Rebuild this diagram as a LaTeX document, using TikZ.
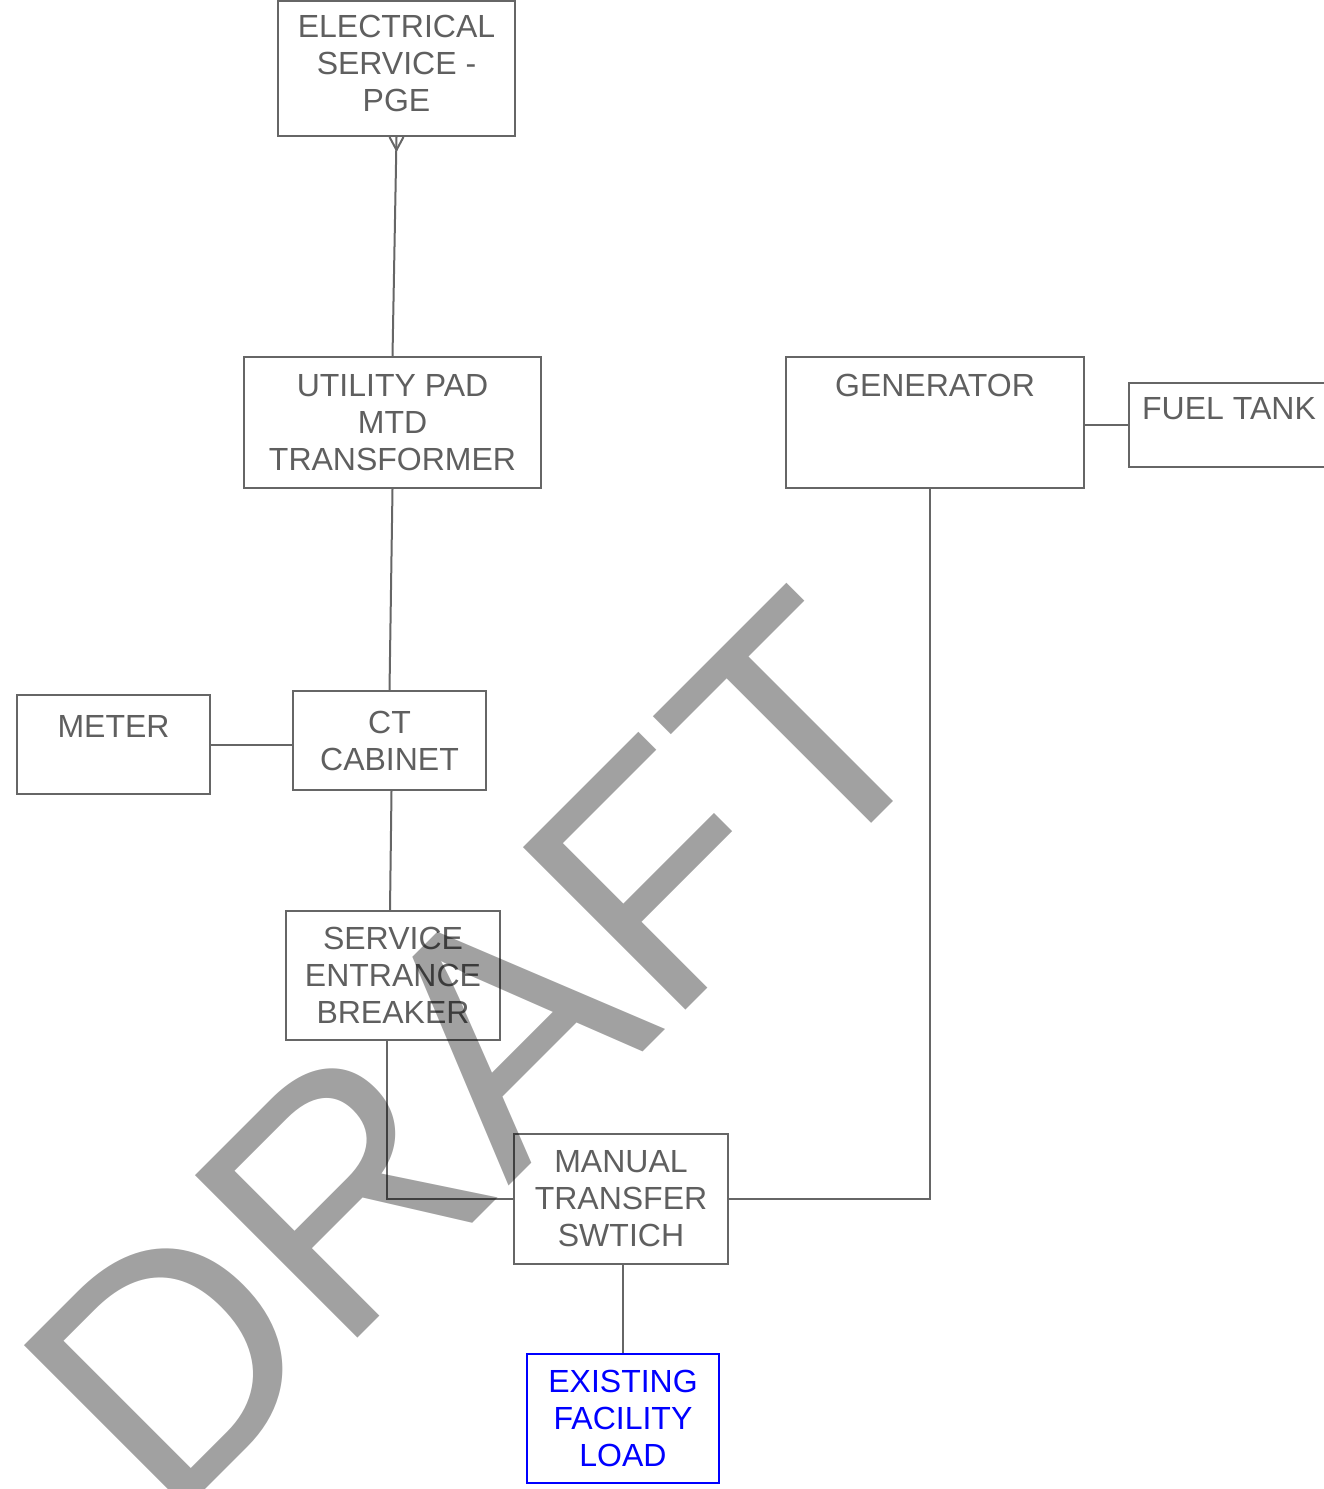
\documentclass[tikz,border=0pt]{standalone}
\usepackage{fontspec}
\setmainfont{Liberation Sans}
\usetikzlibrary{positioning,calc}
\definecolor{wire}{HTML}{666666}
\definecolor{label}{HTML}{5F5F5F}
\definecolor{loadblue}{HTML}{0000FF}

\begin{document}
\begin{tikzpicture}[x=0.5pt, y=-0.5pt, font=\fontsize{16}{18.5}\selectfont,
  box/.style={draw=wire, line width=1pt, align=center, text=label, inner sep=0pt},
  link/.style={draw=wire, line width=1pt}]
\useasboundingbox (0,0) rectangle (1323,1489);
\node[box, minimum width=118.5pt, minimum height=67.5pt] (pge) at (396.5,68.5) {ELECTRICAL\\SERVICE -\\PGE\\[-13.5pt]~};
\node[box, minimum width=148.5pt, minimum height=65.5pt] (util) at (392.5,422.5) {UTILITY PAD\\MTD\\TRANSFORMER};
\node[box, minimum width=149pt, minimum height=65.5pt] (gen) at (935,422.5) {GENERATOR\\~\\~};
\node[box, minimum width=100pt, minimum height=42pt] (fuel) at (1229,425) {FUEL TANK\\[-2pt]~};
\node[box, minimum width=96.5pt, minimum height=49.5pt] (meter) at (113.5,744.5) {METER\\~};
\node[box, minimum width=96.5pt, minimum height=49.5pt] (ct) at (389.5,740.5) {CT\\CABINET};
\node[box, minimum width=107pt, minimum height=64.5pt] (seb) at (393,975.5) {SERVICE\\ENTRANCE\\BREAKER};
\node[box, minimum width=107pt, minimum height=65pt] (mts) at (621,1199) {MANUAL\\TRANSFER\\SWTICH};
\node[box, draw=loadblue, text=loadblue, minimum width=96pt, minimum height=64.5pt] (load) at (623,1418.5) {EXISTING\\FACILITY\\LOAD};
% connections
\coordinate (fork) at ([yshift=-6.5pt]pge.south);
\draw[link] (pge.south) -- (util.north);
\draw[link] ([xshift=-3.5pt]pge.south) -- (fork) -- ([xshift=3.5pt]pge.south);
\draw[link] (util.south) -- (ct.north);
\draw[link] (meter.east) -- (meter.east -| ct.west);
\draw[link] ([xshift=1pt]ct.south) -- ([xshift=-1.5pt]seb.north);
\draw[link] ([xshift=-3pt]seb.south) |- (mts.west);
\draw[link] ([xshift=-2.5pt]gen.south) |- (mts.east);
\draw[link] (fuel.west) -- (fuel.west -| gen.east);
\draw[link] (load.north |- mts.south) -- (load.north);
% watermark
\node[rotate=45, font=\fontsize{167}{167}\selectfont, text=black, opacity=0.37, inner sep=0pt] (draft) at (480,1053) {DRAFT};
\end{tikzpicture}
\end{document}
